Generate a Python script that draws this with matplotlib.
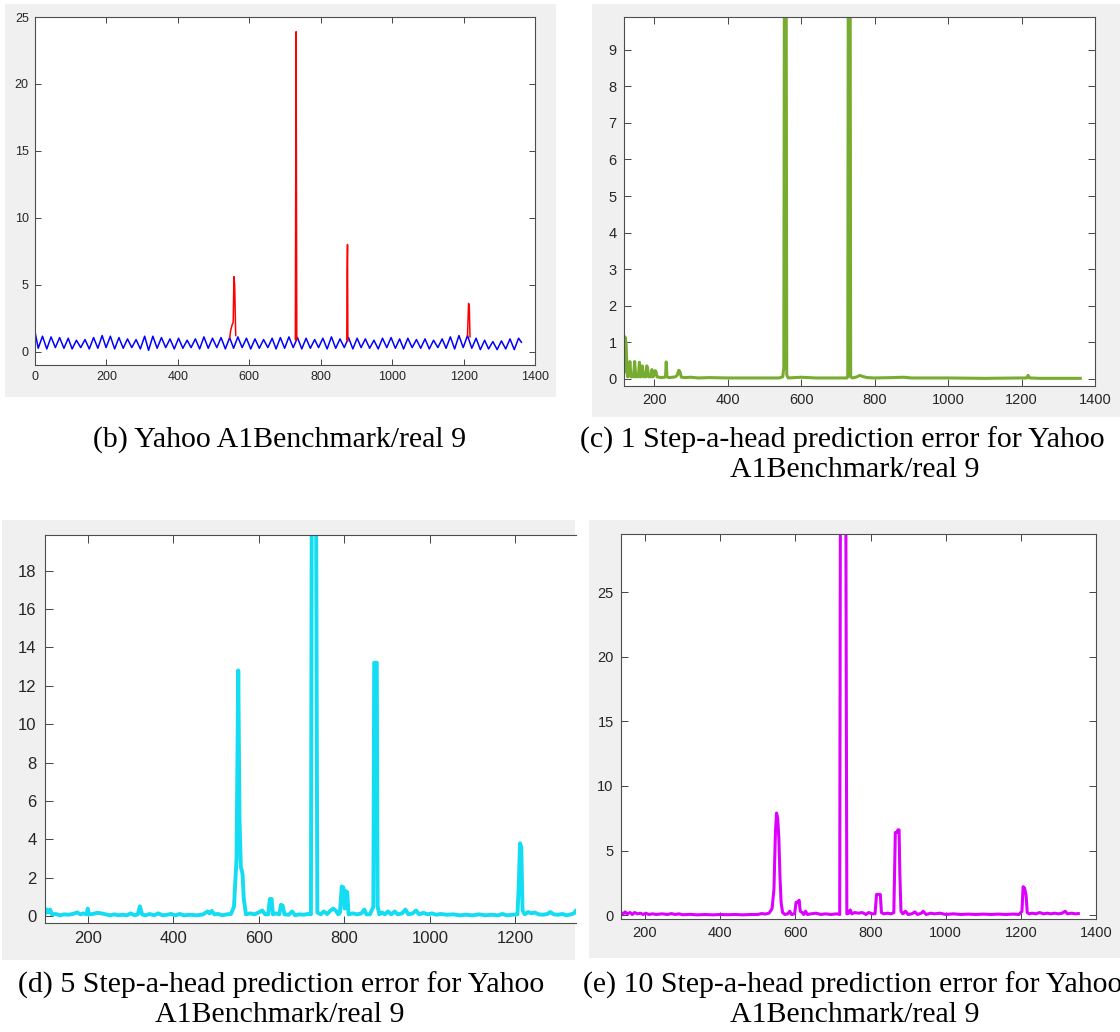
import numpy as np
import matplotlib.pyplot as plt
from matplotlib.patches import Rectangle

plt.rcParams['font.family'] = ['Liberation Sans', 'DejaVu Sans']

W, H = 1120, 1032

# (b) raw series, troughs and peaks of the daily cycle
blue_x = [1, 9, 21, 33, 45, 57, 69, 81, 93, 104, 116, 128, 140, 152, 164, 176, 188,
          199, 211, 223, 235, 247, 259, 271, 283, 295, 307, 318, 330, 342, 354, 366, 378,
          390, 402, 414, 426, 437, 449, 461, 473, 485, 497, 509, 521, 533, 545, 556, 568,
          580, 592, 604, 616, 628, 640, 652, 664, 675, 687, 699, 711, 723, 735, 747, 759,
          771, 783, 794, 806, 818, 830, 842, 854, 866, 878, 890, 902, 913, 925, 937, 949,
          961, 973, 985, 997, 1009, 1021, 1032, 1044, 1056, 1068, 1080, 1092, 1104, 1116,
          1128, 1140, 1151, 1163, 1175, 1187, 1199, 1211, 1223, 1235, 1247, 1259, 1270,
          1282, 1294, 1306, 1318, 1330, 1342, 1354, 1362]
blue_y = [1.35, 0.25, 1.15, 0.2, 1.1, 0.3, 1.05, 0.25, 1.0, 0.2, 0.85, 0.3, 0.9, 0.2, 1.05,
          0.25, 1.2, 0.3, 1.15, 0.2, 1.05, 0.25, 0.95, 0.3, 0.9, 0.2, 1.15, 0.1, 1.15,
          0.25, 1.05, 0.3, 0.95, 0.2, 1.0, 0.25, 0.85, 0.3, 0.95, 0.2, 1.1, 0.25, 1.0,
          0.3, 1.05, 0.2, 1.05, 0.25, 1.1, 0.3, 1.0, 0.2, 0.95, 0.25, 0.9, 0.3, 1.0,
          0.2, 1.05, 0.25, 1.1, 0.3, 1.05, 0.2, 1.0, 0.25, 0.9, 0.3, 1.0, 0.2, 1.1,
          0.25, 0.95, 0.3, 1.05, 0.2, 1.0, 0.3, 0.95, 0.25, 0.85, 0.2, 1.0, 0.3, 1.05,
          0.25, 0.95, 0.2, 1.0, 0.3, 0.9, 0.25, 0.95, 0.2, 0.85, 0.3, 0.95, 0.25, 1.1,
          0.2, 1.2, 0.3, 1.2, 0.25, 1.0, 0.15, 0.85, 0.2, 0.75, 0.15, 0.8, 0.2, 0.95,
          0.15, 1.0, 0.7]
# (b) labelled anomalies
red_x = [545, 548, 552, 555, 557, 559, 562, np.nan, 729, 731, 733, np.nan,
         873, 874, 875, 876, np.nan, 1211, 1214, 1216, 1218]
red_y = [1.0, 1.6, 2.0, 2.2, 5.6, 5.0, 1.2, np.nan, 0.9, 23.9, 0.9, np.nan,
         0.9, 6.0, 8.0, 0.8, np.nan, 1.2, 3.6, 3.4, 1.1]

# (c) 1 step-ahead error
green_x = [118, 120, 122, 124, 126, 128, 131, 134, 137, 140, 144, 147, 150, 153, 157, 160,
           163, 166, 168, 171, 174, 177, 180, 182, 185, 188, 191, 194, 197, 200, 203, 205,
           208, 212, 220, 228, 231, 233, 235, 240, 250, 258, 263, 267, 270, 274, 285, 300,
           320, 350, 400, 450, 500, 540, 550, 553, 555, 559, 561, 565, 600, 640, 700, 725,
           727, 729, 733, 735, 740, 752, 760, 768, 780, 800, 850, 880, 900, 1000, 1100,
           1200, 1214, 1218, 1222, 1250, 1300, 1360]
green_y = [0.2, 1.15, 1.1, 0.9, 0.2, 0.05, 0.1, 0.47, 0.05, 0.1, 0.05, 0.47, 0.05, 0.1,
           0.05, 0.45, 0.05, 0.1, 0.35, 0.05, 0.1, 0.05, 0.35, 0.3, 0.05, 0.1, 0.05, 0.25,
           0.05, 0.1, 0.22, 0.2, 0.05, 0.04, 0.03, 0.04, 0.05, 0.46, 0.05, 0.03, 0.04, 0.05,
           0.1, 0.23, 0.2, 0.04, 0.03, 0.04, 0.02, 0.03, 0.02, 0.02, 0.02, 0.02, 0.05, 0.3,
           14, 14, 0.1, 0.02, 0.04, 0.02, 0.02, 0.02, 0.05, 15, 15, 0.05, 0.02, 0.05, 0.09,
           0.06, 0.03, 0.02, 0.03, 0.04, 0.02, 0.02, 0.01, 0.02, 0.02, 0.09, 0.02, 0.01,
           0.01, 0.01]

# (d) 5 step-ahead error
cyan_x = [100, 104, 108, 112, 116, 125, 135, 145, 155, 165, 175, 183, 190, 197, 200, 203,
          212, 222, 232, 242, 252, 262, 272, 282, 292, 300, 310, 317, 322, 327, 335, 345,
          355, 365, 375, 385, 395, 405, 415, 425, 440, 455, 470, 480, 485, 490, 496, 505,
          515, 525, 535, 542, 548, 552, 555, 558, 562, 565, 570, 580, 590, 600, 608, 615,
          622, 626, 630, 633, 640, 648, 652, 656, 660, 670, 678, 685, 695, 705, 715, 722,
          724, 734, 737, 745, 752, 760, 768, 774, 780, 786, 790, 794, 798, 801, 804, 807,
          810, 820, 830, 840, 847, 852, 860, 868, 870, 876, 878, 882, 888, 895, 902, 910,
          918, 925, 935, 943, 950, 960, 968, 975, 985, 995, 1005, 1015, 1025, 1040, 1055,
          1070, 1085, 1100, 1115, 1130, 1145, 1160, 1170, 1180, 1195, 1205, 1208, 1211,
          1214, 1217, 1222, 1230, 1238, 1245, 1255, 1265, 1275, 1282, 1290, 1300, 1310,
          1320, 1330, 1337, 1342, 1350]
cyan_y = [0.15, 0.35, 0.2, 0.35, 0.1, 0.12, 0.05, 0.1, 0.08, 0.12, 0.2, 0.1, 0.15, 0.1,
          0.4, 0.1, 0.12, 0.18, 0.15, 0.1, 0.05, 0.1, 0.05, 0.08, 0.05, 0.15, 0.05, 0.1,
          0.52, 0.1, 0.05, 0.12, 0.05, 0.15, 0.05, 0.08, 0.12, 0.05, 0.12, 0.05, 0.08, 0.05,
          0.1, 0.25, 0.15, 0.28, 0.1, 0.12, 0.05, 0.1, 0.12, 0.5, 3.0, 12.8, 5.0, 2.6, 2.2,
          0.9, 0.1, 0.15, 0.1, 0.2, 0.3, 0.1, 0.1, 0.9, 0.9, 0.1, 0.15, 0.1, 0.6, 0.55,
          0.1, 0.08, 0.25, 0.05, 0.1, 0.08, 0.12, 0.1, 22, 22, 0.2, 0.1, 0.25, 0.12, 0.3,
          0.4, 0.3, 0.1, 0.2, 1.55, 1.5, 0.4, 1.3, 1.25, 0.1, 0.15, 0.1, 0.15, 0.35, 0.1,
          0.1, 0.5, 13.2, 13.2, 0.5, 0.1, 0.2, 0.1, 0.25, 0.1, 0.25, 0.1, 0.15, 0.35, 0.1,
          0.15, 0.3, 0.1, 0.18, 0.1, 0.15, 0.08, 0.12, 0.08, 0.1, 0.05, 0.08, 0.05, 0.1,
          0.05, 0.08, 0.05, 0.12, 0.05, 0.08, 0.1, 1.5, 3.8, 3.6, 0.3, 0.1, 0.22, 0.15,
          0.2, 0.1, 0.08, 0.12, 0.22, 0.1, 0.08, 0.12, 0.05, 0.1, 0.15, 0.3, 0.3]

# (e) 10 step-ahead error
mag_x = [136, 142, 147, 152, 160, 166, 172, 180, 188, 195, 202, 210, 220, 230, 245, 260,
         270, 280, 290, 300, 320, 340, 360, 380, 400, 420, 440, 460, 480, 500, 510, 520,
         530, 538, 543, 547, 550, 553, 556, 559, 562, 566, 572, 580, 585, 590, 598, 602,
         607, 610, 613, 618, 622, 627, 632, 642, 655, 668, 680, 695, 710, 718, 720, 734,
         737, 742, 746, 750, 758, 768, 778, 788, 795, 805, 812, 816, 826, 829, 835, 845,
         855, 862, 866, 870, 873, 876, 878, 881, 886, 893, 900, 910, 918, 925, 935, 940,
         948, 960, 970, 985, 1000, 1020, 1040, 1060, 1080, 1100, 1120, 1140, 1160, 1180,
         1195, 1203, 1206, 1210, 1214, 1217, 1222, 1230, 1240, 1250, 1260, 1270, 1280,
         1290, 1300, 1310, 1318, 1324, 1335, 1345, 1353]
mag_y = [0.2, 0.1, 0.25, 0.1, 0.2, 0.05, 0.2, 0.1, 0.15, 0.05, 0.15, 0.05, 0.1, 0.05,
         0.1, 0.05, 0.12, 0.05, 0.1, 0.03, 0.06, 0.02, 0.05, 0.02, 0.05, 0.03, 0.05, 0.02,
         0.05, 0.05, 0.12, 0.08, 0.15, 0.5, 2.0, 6.5, 7.9, 7.5, 6.0, 3.0, 1.0, 0.2, 0.05,
         0.1, 0.3, 0.05, 0.1, 1.0, 1.0, 1.15, 0.3, 0.2, 0.05, 0.3, 0.05, 0.1, 0.15, 0.05,
         0.1, 0.05, 0.1, 0.05, 35, 35, 0.1, 0.15, 0.4, 0.1, 0.2, 0.15, 0.2, 0.05, 0.2, 0.1,
         0.1, 1.6, 1.6, 0.2, 0.1, 0.15, 0.1, 0.2, 6.4, 6.4, 6.6, 6.6, 3.2, 0.3, 0.1, 0.3,
         0.05, 0.1, 0.25, 0.05, 0.15, 0.3, 0.05, 0.15, 0.1, 0.15, 0.05, 0.1, 0.05, 0.08,
         0.05, 0.08, 0.05, 0.08, 0.05, 0.08, 0.05, 0.3, 2.2, 2.1, 1.5, 0.2, 0.1, 0.15, 0.1,
         0.2, 0.1, 0.15, 0.1, 0.15, 0.1, 0.15, 0.3, 0.1, 0.15, 0.1, 0.12]

captions = [
    ['(b) Yahoo A1Benchmark/real 9'],
    ['(c) 1 Step-a-head prediction error for Yahoo', 'A1Benchmark/real 9'],
    ['(d) 5 Step-a-head prediction error for Yahoo', 'A1Benchmark/real 9'],
    ['(e) 10 Step-a-head prediction error for Yahoo', 'A1Benchmark/real 9'],
]


def rect(x0, y0, x1, y1):
    return [x0 / W, 1 - y1 / H, (x1 - x0) / W, (y1 - y0) / H]


def matlab_axes(box, xlim, ylim, xticks, yticks, size, right=True):
    ax = fig.add_axes(rect(*box))
    ax.set_xlim(xlim)
    ax.set_ylim(ylim)
    ax.set_xticks(xticks)
    ax.set_yticks(yticks)
    ax.tick_params(direction='in', length=size * 0.45, width=0.6, color='#262626',
                   labelsize=size, labelcolor='#262626', pad=size * 0.5,
                   top=True, right=right)
    for s in ax.spines.values():
        s.set_color('#4d4d4d')
        s.set_linewidth(0.8)
    if not right:
        ax.spines['right'].set_visible(False)
    return ax


fig = plt.figure(figsize=(W / 100, H / 100), dpi=100)

# grey figure backgrounds of the four screenshots
for g in [(5, 4, 556, 397), (592, 4, 1120, 417), (2, 520, 575, 960), (589, 520, 1120, 958)]:
    fig.patches.append(Rectangle((g[0] / W, 1 - g[3] / H), (g[2] - g[0]) / W,
                                 (g[3] - g[1]) / H, transform=fig.transFigure,
                                 facecolor='#f0f0f0', edgecolor='none', zorder=-5))

ax = matlab_axes((35, 17, 535, 365), (0, 1400), (-1, 25),
                 range(0, 1401, 200), range(0, 26, 5), 9)
ax.plot(blue_x, blue_y, color='#0000ff', lw=1.1)
ax.plot(red_x, red_y, color='#ff0000', lw=1.1)

ax = matlab_axes((624, 17, 1095, 386), (118, 1400), (-0.2, 9.9),
                 range(200, 1401, 200), range(0, 10), 10.5)
ax.plot(green_x, green_y, color='#77ac30', lw=2.2)

ax = matlab_axes((45, 535, 576, 923), (100, 1342), (-0.35, 19.85),
                 range(200, 1201, 200), range(0, 19, 2), 12, right=False)
ax.plot(cyan_x, cyan_y, color='#14dcf2', lw=2.8)

ax = matlab_axes((621, 534, 1096, 919), (136, 1400), (-0.3, 29.5),
                 range(200, 1401, 200), range(0, 26, 5), 10.5)
ax.plot(mag_x, mag_y, color='#dd00ff', lw=2.2)

serif = ['Liberation Serif', 'DejaVu Serif']
fs = 21.5
fig.text(280 / W, 1 - 440 / H, captions[0][0], ha='center', va='center',
         family=serif, fontsize=fs)
fig.text(580 / W, 1 - 440 / H, captions[1][0], ha='left', va='center',
         family=serif, fontsize=fs)
fig.text(855 / W, 1 - 470 / H, captions[1][1], ha='center', va='center',
         family=serif, fontsize=fs)
fig.text(281 / W, 1 - 985 / H, captions[2][0], ha='center', va='center',
         family=serif, fontsize=fs)
fig.text(280 / W, 1 - 1015 / H, captions[2][1], ha='center', va='center',
         family=serif, fontsize=fs)
fig.text(583 / W, 1 - 985 / H, captions[3][0], ha='left', va='center',
         family=serif, fontsize=fs)
fig.text(855 / W, 1 - 1015 / H, captions[3][1], ha='center', va='center',
         family=serif, fontsize=fs)

fig.savefig('out.png', dpi=100)
